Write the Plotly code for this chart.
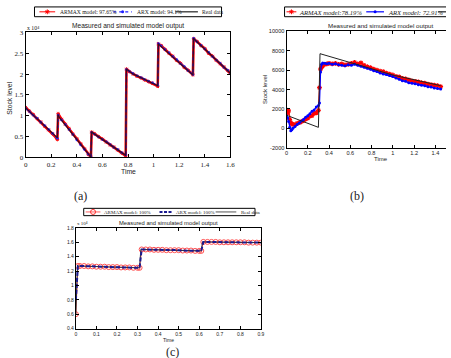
import plotly.graph_objects as go

# ---------------- (a) ----------------
ta_real = [0, 0.248, 0.252, 0.262, 0.510, 0.515, 0.525, 0.782, 0.787, 0.795, 0.835,
           1.032, 1.037, 1.045, 1.307, 1.312, 1.32, 1.6]
ya_real = [1.19, 0.47, 1.03, 0.97, 0.01, 0.62, 0.59, 0.05, 2.12, 2.10, 2.01,
           1.72, 2.73, 2.70, 1.98, 2.86, 2.83, 2.02]
ta_mod = [0, 0.03, 0.06, 0.09, 0.12, 0.15, 0.18, 0.21, 0.24, 0.248,
          0.254, 0.28, 0.31, 0.34, 0.37, 0.40, 0.43, 0.46, 0.49, 0.51,
          0.516, 0.54, 0.57, 0.60, 0.63, 0.66, 0.69, 0.72, 0.75, 0.782,
          0.788, 0.81, 0.84, 0.87, 0.90, 0.93, 0.96, 0.99, 1.032,
          1.038, 1.06, 1.09, 1.12, 1.15, 1.18, 1.21, 1.24, 1.27, 1.307,
          1.313, 1.34, 1.37, 1.40, 1.43, 1.46, 1.49, 1.52, 1.55, 1.58, 1.60]
ya_armax = [1.20, 1.11, 1.03, 0.93, 0.85, 0.75, 0.66, 0.57, 0.47, 0.43,
            1.05, 0.92, 0.80, 0.69, 0.56, 0.45, 0.33, 0.21, 0.07, 0.01,
            0.61, 0.57, 0.50, 0.44, 0.37, 0.30, 0.25, 0.18, 0.11, 0.04,
            2.12, 2.06, 2.00, 1.95, 1.91, 1.86, 1.82, 1.78, 1.71,
            2.72, 2.68, 2.59, 2.50, 2.43, 2.33, 2.26, 2.16, 2.09, 1.98,
            2.85, 2.78, 2.68, 2.61, 2.50, 2.43, 2.33, 2.25, 2.17, 2.08, 2.02]
ya_arx = [1.18, 1.10, 1.01, 0.94, 0.84, 0.76, 0.67, 0.58, 0.49, 0.46,
          1.02, 0.90, 0.79, 0.67, 0.55, 0.42, 0.30, 0.19, 0.08, 0.02,
          0.60, 0.56, 0.49, 0.43, 0.38, 0.31, 0.24, 0.19, 0.12, 0.06,
          2.11, 2.07, 2.01, 1.96, 1.92, 1.87, 1.83, 1.79, 1.73,
          2.73, 2.67, 2.58, 2.51, 2.42, 2.35, 2.25, 2.18, 2.08, 1.99,
          2.86, 2.77, 2.69, 2.60, 2.52, 2.42, 2.34, 2.26, 2.16, 2.09, 2.03]
xa_ticks = [0, 0.2, 0.4, 0.6, 0.8, 1, 1.2, 1.4, 1.6]
xa_text = ["0", "0.2", "0.4", "0.6", "0.8", "1", "1.2", "1.4", "1.6"]
ya_ticks = [0, 0.5, 1, 1.5, 2, 2.5, 3]
ya_text = ["0", "0.5", "1", "1.5", "2", "2.5", "3"]

# ---------------- (b) ----------------
tb_real = [0, 0.30, 0.315, 0.62, 1.0, 1.45]
yb_real = [1350, 100, 7700, 6700, 5500, 4400]
tb_mod = [0.00, 0.01, 0.02, 0.03, 0.04, 0.05, 0.06, 0.08, 0.10, 0.12, 0.14, 0.16,
          0.18, 0.20, 0.22, 0.24, 0.26, 0.28, 0.30, 0.31, 0.32, 0.33, 0.34, 0.36,
          0.38, 0.40, 0.43, 0.46, 0.49, 0.52, 0.55, 0.58, 0.61, 0.64, 0.67, 0.70,
          0.73, 0.76, 0.79, 0.82, 0.85, 0.88, 0.91, 0.94, 0.97, 1.00, 1.03, 1.06,
          1.09, 1.12, 1.15, 1.18, 1.21, 1.24, 1.27, 1.30, 1.33, 1.36, 1.39, 1.42, 1.45]
yb_armax = [1900, 1600, 1800, 900, 600, 450, 400, 380, 520, 600, 680, 800,
            950, 1050, 1250, 1300, 1550, 1600, 1850, 4200, 6100, 6300, 6450, 6600,
            6650, 6700, 6650, 6700, 6600, 6650, 6550, 6600, 6700, 6800, 6650, 6750,
            6500, 6350, 6250, 6100, 6000, 5900, 5850, 5700, 5600, 5500, 5350, 5300,
            5150, 5100, 5000, 4900, 4850, 4800, 4700, 4650, 4550, 4500, 4450, 4400, 4300]
yb_arx = [1300, 1100, 700, 100, -250, -150, 0, 200, 400, 550, 750, 900,
          1150, 1300, 1500, 1750, 1900, 2200, 2350, 2600, 5800, 6600, 6750, 6700,
          6650, 6700, 6600, 6650, 6550, 6500, 6450, 6550, 6500, 6600, 6500, 6400,
          6300, 6200, 6100, 5950, 5850, 5700, 5600, 5550, 5450, 5350, 5200, 5050,
          4900, 4850, 4700, 4650, 4600, 4500, 4450, 4400, 4300, 4250, 4150, 4100, 4050]
xb_ticks = [0, 0.2, 0.4, 0.6, 0.8, 1, 1.2, 1.4]
xb_text = ["0", "0.2", "0.4", "0.6", "0.8", "1", "1.2", "1.4"]
yb_ticks = [-2000, 0, 2000, 4000, 6000, 8000, 10000]
yb_text = ["-2000", "0", "2000", "4000", "6000", "8000", "10000"]

# ---------------- (c) ----------------
tc_real = [0, 0.008, 0.31, 0.316, 0.61, 0.616, 0.9]
yc_real = [0.6, 1.27, 1.245, 1.50, 1.48, 1.605, 1.595]
tc_mod = [0.00, 0.01, 0.02, 0.04, 0.06, 0.08, 0.10, 0.12, 0.14, 0.16, 0.18, 0.20,
          0.22, 0.24, 0.26, 0.28, 0.30, 0.31,
          0.32, 0.34, 0.36, 0.38, 0.40, 0.42, 0.44, 0.46, 0.48, 0.50, 0.52, 0.54,
          0.56, 0.58, 0.60, 0.61,
          0.62, 0.64, 0.66, 0.68, 0.70, 0.72, 0.74, 0.76, 0.78, 0.80, 0.82, 0.84,
          0.86, 0.88, 0.90]
yc_armax = [0.60, 1.27, 1.27, 1.27, 1.265, 1.265, 1.26, 1.26, 1.26, 1.255, 1.255, 1.255,
            1.25, 1.25, 1.25, 1.245, 1.245, 1.245,
            1.50, 1.50, 1.50, 1.495, 1.495, 1.495, 1.49, 1.49, 1.49, 1.49, 1.485, 1.485,
            1.485, 1.48, 1.48, 1.48,
            1.605, 1.605, 1.605, 1.605, 1.60, 1.60, 1.60, 1.60, 1.60, 1.60, 1.60, 1.595,
            1.595, 1.595, 1.595]
yc_arx = [0.80, 1.27, 1.27, 1.27, 1.265, 1.265, 1.26, 1.26, 1.26, 1.255, 1.255, 1.255,
          1.25, 1.25, 1.25, 1.245, 1.245, 1.245,
          1.50, 1.50, 1.50, 1.495, 1.495, 1.495, 1.49, 1.49, 1.49, 1.49, 1.485, 1.485,
          1.485, 1.48, 1.48, 1.48,
          1.605, 1.605, 1.605, 1.605, 1.60, 1.60, 1.60, 1.60, 1.60, 1.60, 1.60, 1.595,
          1.595, 1.595, 1.595]
xc_ticks = [0, 0.1, 0.2, 0.3, 0.4, 0.5, 0.6, 0.7, 0.8, 0.9]
xc_text = ["0", "0.1", "0.2", "0.3", "0.4", "0.5", "0.6", "0.7", "0.8", "0.9"]
yc_ticks = [0.4, 0.6, 0.8, 1.0, 1.2, 1.4, 1.6, 1.8]
yc_text = ["0.4", "0.6", "0.8", "1", "1.2", "1.4", "1.6", "1.8"]

TITLE = "Measured and simulated model output"

W, H = 451, 358
SERIF = "Liberation Serif"
SANS = "Liberation Sans"


def px(x):
    return x / W


def py(y):
    return 1 - y / H


fig = go.Figure()

# (a)
fig.add_trace(go.Scatter(x=ta_mod, y=ya_armax, mode="lines+markers", xaxis="x", yaxis="y",
                         line=dict(color="#ff0000", width=2.6),
                         marker=dict(symbol="asterisk", size=3, color="#ff0000",
                                     line=dict(color="#ff0000", width=1))))
fig.add_trace(go.Scatter(x=ta_mod, y=ya_arx, mode="lines+markers", xaxis="x", yaxis="y",
                         line=dict(color="#2020ff", width=1.6, dash="dot"),
                         marker=dict(size=2.5, color="#2020ff")))
fig.add_trace(go.Scatter(x=ta_real, y=ya_real, mode="lines", xaxis="x", yaxis="y",
                         line=dict(color="#3a0a20", width=1.3)))

# (b)
fig.add_trace(go.Scatter(x=tb_mod, y=yb_armax, mode="lines+markers", xaxis="x2", yaxis="y2",
                         line=dict(color="#ff0000", width=1.3),
                         marker=dict(symbol="asterisk", size=4, color="#ff0000",
                                     line=dict(color="#ff0000", width=1.2))))
fig.add_trace(go.Scatter(x=tb_mod, y=yb_arx, mode="lines+markers", xaxis="x2", yaxis="y2",
                         line=dict(color="#0000ff", width=1.3),
                         marker=dict(size=3, color="#0000ff")))
fig.add_trace(go.Scatter(x=tb_real, y=yb_real, mode="lines", xaxis="x2", yaxis="y2",
                         line=dict(color="#222222", width=1)))

# (c)
fig.add_trace(go.Scatter(x=tc_mod, y=yc_armax, mode="lines+markers", xaxis="x3", yaxis="y3",
                         line=dict(color="#ff6060", width=1),
                         marker=dict(symbol="circle-open", size=5, color="#ff5050",
                                     line=dict(width=1))))
fig.add_trace(go.Scatter(x=tc_real, y=yc_real, mode="lines", xaxis="x3", yaxis="y3",
                         line=dict(color="#333333", width=1)))
fig.add_trace(go.Scatter(x=tc_mod, y=yc_arx, mode="lines", xaxis="x3", yaxis="y3",
                         line=dict(color="#1a1a90", width=2, dash="4px,2px")))

# ---------- legends (drawn in a pixel overlay axis) ----------
def leg_line(x0, x1, y, color, width, dash="solid", marker=None):
    fig.add_trace(go.Scatter(x=[x0, x1], y=[y, y], mode="lines", xaxis="x4", yaxis="y4",
                             line=dict(color=color, width=width, dash=dash),
                             hoverinfo="skip"))
    if marker is not None:
        fig.add_trace(go.Scatter(x=[(x0 + x1) / 2], y=[y], mode="markers", xaxis="x4", yaxis="y4",
                                 marker=marker, hoverinfo="skip"))


shapes = []
annos = []


def box(x0, y0, x1, y1):
    shapes.append(dict(type="rect", xref="x4", yref="y4", x0=x0, y0=y0, x1=x1, y1=y1,
                       line=dict(color="black", width=1), fillcolor="white", layer="below"))


def txt(x, y, s, size, family=SERIF, xanchor="left", yanchor="middle", color="#222", angle=0,
        style="normal"):
    annos.append(dict(x=x, y=y, xref="x4", yref="y4", text=s, showarrow=False,
                      xanchor=xanchor, yanchor=yanchor, textangle=angle,
                      font=dict(size=size, family=family, color=color, style=style)))


# legend (a)
box(33, 3, 223, 13)
leg_line(38, 54, 8, "#ff0000", 1, marker=dict(symbol="asterisk", size=4, color="#ff0000",
                                               line=dict(color="#ff0000", width=1)))
txt(57, 8.3, "ARMAX model: 97.65%", 5.6)
leg_line(113, 132, 8, "#2020ff", 1.2, dash="dot", marker=dict(size=3, color="#2020ff"))
txt(135, 8.3, "ARX model: 94.1%", 5.6)
leg_line(176, 199, 8, "#222", 1.2)
txt(201, 8.3, "Real data", 5.6)

# legend (b)
box(287, 3, 470, 13)
leg_line(289, 299, 8, "#ff0000", 1, marker=dict(symbol="asterisk", size=4, color="#ff0000",
                                                 line=dict(color="#ff0000", width=1)))
txt(300, 8.3, "ARMAX model:78.19%", 6.6, style="italic")
leg_line(370, 388, 8, "#0000ff", 1.2, marker=dict(size=3, color="#0000ff"))
txt(390, 8.3, "ARX model: 72.91%", 6.6, style="italic")
leg_line(443, 460, 8, "#222", 1.2)

# legend (c)
box(83, 209, 257, 216.5)
leg_line(85, 100, 212.7, "#ff6060", 1, marker=dict(symbol="circle-open", size=5, color="#ff3030",
                                                    line=dict(width=1)))
txt(102, 213, "ARMAX model: 100%", 5)
leg_line(160, 173, 212.7, "#1a1a90", 2, dash="3px,1.5px")
txt(175, 213, "ARX model: 100%", 5)
leg_line(217, 238, 212.7, "#555", 1)
txt(241, 213, "Real data", 5)

# titles
txt(128, 23, TITLE, 6.6, family=SANS, xanchor="center")
txt(385, 22, TITLE, 6.2, family=SANS, xanchor="center")
txt(169, 224, TITLE, 5.8, family=SANS, xanchor="center")

# axis labels
txt(8, 96, "Stock level", 6.8, family=SANS, xanchor="center", angle=-90)
txt(128, 171.5, "Time", 6.8, family=SANS, xanchor="center")
txt(267, 87, "Stock level", 6, family=SANS, xanchor="center", angle=-90)
txt(385, 159, "Time", 6, family=SANS, xanchor="center")
txt(169, 343.5, "Time", 5, family=SANS, xanchor="center")

# exponent markers
txt(23, 24.5, "x 10\u2074", 5.8, xanchor="left")
txt(74, 224.5, "x 10\u2074", 5, xanchor="left")

# panel labels
txt(80, 196, "(a)", 12, xanchor="center")
txt(361, 196, "(b)", 12, xanchor="center")
txt(173, 356, "(c)", 12, xanchor="center")


def axis(domain, rng, tv, tt, size, family, mirror="ticks", anchor=None):
    return dict(domain=domain, range=rng, tickvals=tv, ticktext=tt, ticks="inside", ticklen=3,
                tickwidth=0.8, tickcolor="black", showline=True, linecolor="black", linewidth=1,
                mirror=mirror, showgrid=False, zeroline=False, anchor=anchor,
                tickfont=dict(size=size, family=family, color="#222"), fixedrange=True)


fig.update_layout(
    width=W, height=H, margin=dict(l=0, r=0, t=0, b=0),
    paper_bgcolor="white", plot_bgcolor="rgba(0,0,0,0)", showlegend=False,
    xaxis=axis([px(24), px(232)], [0, 1.6], xa_ticks, xa_text, 7, SERIF, anchor="y"),
    yaxis=axis([py(157), py(29)], [0, 3], ya_ticks, ya_text, 7, SERIF, anchor="x"),
    xaxis2=axis([px(289), 1.0], [0, 1.5], xb_ticks, xb_text, 5.6, SANS, anchor="y2"),
    yaxis2=axis([py(147), py(28)], [-2000, 10000], yb_ticks, yb_text, 5.6, SANS,
                mirror=False, anchor="x2"),
    xaxis3=axis([px(75), px(263)], [0, 0.9], xc_ticks, xc_text, 5, SANS, anchor="y3"),
    yaxis3=axis([py(332), py(229)], [0.4, 1.8], yc_ticks, yc_text, 5, SANS, anchor="x3"),
    xaxis4=dict(domain=[0, 1], range=[0, W], visible=False, fixedrange=True, anchor="y4"),
    yaxis4=dict(domain=[0, 1], range=[H, 0], visible=False, fixedrange=True, anchor="x4"),
    shapes=shapes, annotations=annos,
)

fig.write_html("out.html")
